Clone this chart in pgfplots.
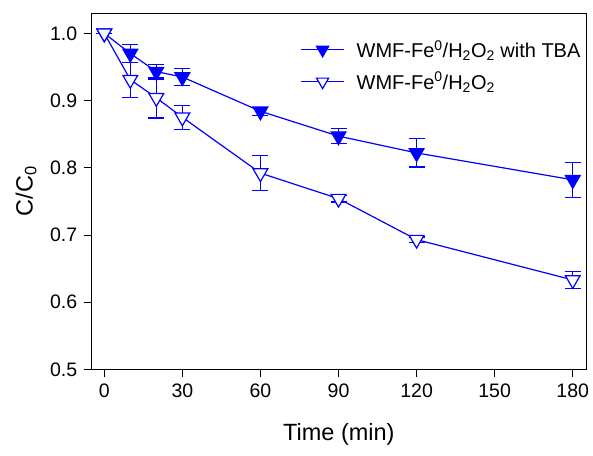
\documentclass[border=0pt]{standalone}
\usepackage{pgfplots}
\pgfplotsset{compat=1.18}
\usepackage{fontspec}
\setmainfont{Liberation Sans}
\definecolor{serblue}{RGB}{0,0,255}

\begin{document}
\begin{tikzpicture}
\begin{axis}[
    scale only axis,
    width=494.3pt, height=356pt,
    xmin=-4.84, xmax=185.1,
    ymin=0.5, ymax=1.0298,
    xtick={0,30,60,90,120,150,180},
    ytick={0.5,0.6,0.7,0.8,0.9,1.0},
    yticklabel style={xshift=-3pt, /pgf/number format/fixed,
        /pgf/number format/fixed zerofill, /pgf/number format/precision=1},
    /pgf/number format/assume math mode=true,
    tick align=outside,
    tick pos=left,
    major tick length=8pt,
    tick style={black, line width=0.8pt},
    axis line style={black, line width=0.8pt},
    ticklabel style={black, font=\fontsize{19.5}{22}\selectfont},
    xticklabel style={yshift=-3pt},
    xlabel={Time (min)},
    ylabel={C/C\textsubscript{0}},
    every axis x label/.style={at={(axis description cs:0.5,-0.182)}, anchor=center,
        black, font=\fontsize{23.5}{26}\selectfont},
    every axis y label/.style={at={(axis description cs:-0.133,0.5)}, rotate=90, anchor=center,
        black, font=\fontsize{23.5}{26}\selectfont},
    legend style={draw=none, fill=none, inner sep=0pt, at={(0.422,0.93)}, anchor=north west,
        font=\fontsize{20}{23}\selectfont, text=black, row sep=9pt, column sep=10pt},
    legend cell align=left,
    legend image code/.code={
        \draw[#1, serblue, line width=1.2pt, mark repeat=2, mark phase=2, mark size=7pt]
            plot coordinates {(0pt,0pt) (21.5pt,0pt) (43pt,0pt)};
    },
]
\addplot[serblue, line width=1.2pt, mark=triangle*, mark size=8.5pt,
    mark options={rotate=180, fill=serblue},
    error bars/y dir=both, error bars/y explicit,
    error bars/error bar style={serblue, line width=1.2pt},
    error bars/error mark options={rotate=90, mark size=8pt, line width=1.2pt, serblue}]
    coordinates {
    (0,1.000) +- (0,0)
    (10,0.970) +- (0,0.013)
    (20,0.943) +- (0,0.011)
    (30,0.935) +- (0,0.013)
    (60,0.884) +- (0,0.006)
    (90,0.847) +- (0,0.011)
    (120,0.822) +- (0,0.021)
    (180,0.782) +- (0,0.026)
};
\addlegendentry{WMF-Fe\textsuperscript{0}/H\textsubscript{2}O\textsubscript{2} with TBA}
\addplot[serblue, line width=1.2pt, mark=triangle*, mark size=8.5pt,
    mark options={rotate=180, fill=white},
    error bars/y dir=both, error bars/y explicit,
    error bars/error bar style={serblue, line width=1.2pt},
    error bars/error mark options={rotate=90, mark size=8pt, line width=1.2pt, serblue}]
    coordinates {
    (0,1.000) +- (0,0)
    (10,0.931) +- (0,0.026)
    (20,0.904) +- (0,0.030)
    (30,0.875) +- (0,0.018)
    (60,0.792) +- (0,0.026)
    (90,0.754) +- (0,0.005)
    (120,0.693) +- (0,0.004)
    (180,0.633) +- (0,0.013)
};
\addlegendentry{WMF-Fe\textsuperscript{0}/H\textsubscript{2}O\textsubscript{2}}
\end{axis}
\pgfresetboundingbox
\path (current axis.south west) +(-91.7pt,-85.7pt)
      (current axis.north east) +(7pt,13.3pt);
\end{tikzpicture}
\end{document}
